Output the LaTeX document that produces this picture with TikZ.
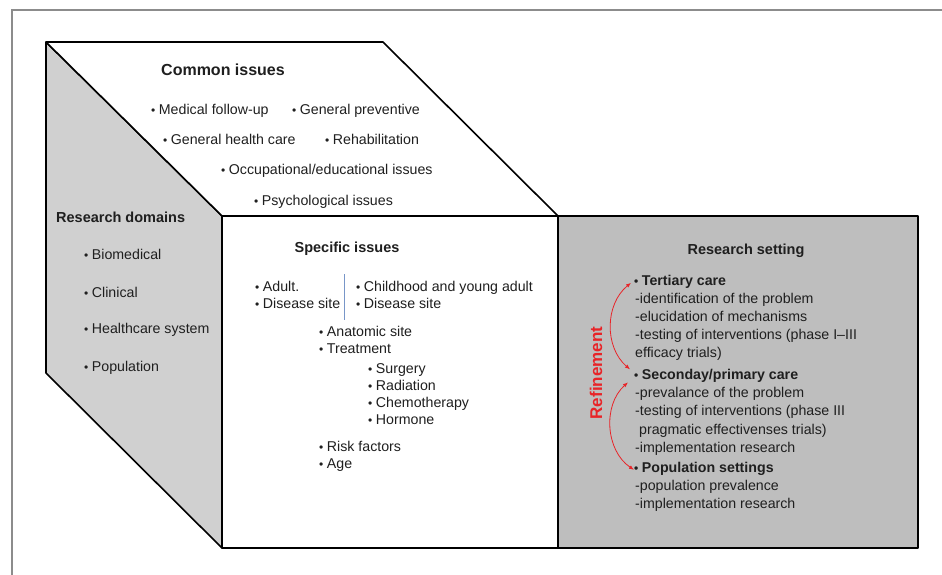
\documentclass[tikz,border=0pt]{standalone}
\usepackage{fontspec}
\setmainfont{Liberation Sans}
\usetikzlibrary{arrows.meta,positioning}
\definecolor{setgray}{RGB}{190,190,190}
\definecolor{domgray}{RGB}{208,208,208}
\definecolor{framegray}{RGB}{140,140,140}
\definecolor{refred}{RGB}{232,36,40}
\definecolor{sepblue}{RGB}{120,150,200}
\newcommand{\bu}{{\fontsize{12}{12}\selectfont\textbullet}\hspace{3.5pt}}

\begin{document}
\begin{tikzpicture}[x=1pt,y=-1pt,font=\fontsize{14.2}{17}\selectfont,
      t/.style={inner sep=0pt,anchor=base west,text=black!88},
      h/.style={t,anchor=base,font=\fontsize{14.5}{17}\selectfont\bfseries},
      b/.style={t,font=\fontsize{14.2}{17}\selectfont\bfseries},
      face/.style={draw=black,line width=1.6pt,line join=round},
      a/.style={{Latex[length=5pt,width=4pt]}-{Latex[length=5pt,width=4pt]},draw=refred,line width=0.8pt}]
      \useasboundingbox (0,0) rectangle (942,575);
      \draw[framegray,line width=2pt] (12,575) -- (12,10.5) -- (942,10.5);
      % cube faces and setting box
      \draw[face,fill=domgray] (46,42) -- (222,216) -- (222,548) -- (46,373) -- cycle;
      \draw[face,fill=white] (46,42) -- (383,42) -- (558,216) -- (222,216) -- cycle;
      \draw[face,fill=white] (222,216) rectangle (558,548);
      \draw[face,fill=setgray] (558,216) rectangle (918,548);
      % common issues
      \node[h,font=\fontsize{16}{17}\selectfont\bfseries] (common) at (223,76) {Common issues};
      \node[t] (follow) at (151,115) {\bu Medical follow-up};
      \node[t] (prev) at (292,115) {\bu General preventive};
      \node[t] (health) at (163,144) {\bu General health care};
      \node[t] (rehab) at (325,144) {\bu Rehabilitation};
      \node[t] (occup) at (221,175) {\bu Occupational/educational issues};
      \node[t] (psych) at (254,205) {\bu Psychological issues};
      % research domains
      \node[h,anchor=base west] (domains) at (56,222) {Research domains};
      \foreach \s/\y in {Biomedical/259,Clinical/297,Healthcare system/333,Population/371}
        \node[t] (dom\y) at (84,\y) {\bu \s};
      % specific issues
      \node[h] (specific) at (347,252) {Specific issues};
      \node[t] (adult) at (255,291) {\bu Adult.};
      \node[t] (adsite) at (255,308) {\bu Disease site};
      \node[t] (child) at (356,291) {\bu Childhood and young adult};
      \node[t] (chsite) at (356,308) {\bu Disease site};
      \draw[sepblue,line width=0.7pt] (344,274) -- (344,320);
      \node[t] (anat) at (319,336) {\bu Anatomic site};
      \node[t] (treat) at (319,353) {\bu Treatment};
      \foreach \s/\y in {Surgery/373,Radiation/390,Chemotherapy/407,Hormone/424}
        \node[t] (tr\y) at (368,\y) {\bu \s};
      \node[t] (risk) at (319,451) {\bu Risk factors};
      \node[t] (age) at (319,468) {\bu Age};
      % research setting
      \node[h] (setting) at (746,254) {Research setting};
      \node[b] (tert) at (634,285) {\bu Tertiary care};
      \foreach \s/\y in {-identification of the problem/303,-elucidation of mechanisms/321,
          -testing of interventions (phase I–III/339,efficacy trials)/357}
        \node[t] (te\y) at (635,\y) {\s};
      \node[b] (sec) at (634,379) {\bu Seconday/primary care};
      \foreach \s/\y in {-prevalance of the problem/397,-testing of interventions (phase III/415,
          \ pragmatic effectivenses trials)/434,-implementation research/452}
        \node[t] (se\y) at (635,\y) {\s};
      \node[b] (pop) at (634,472) {\bu Population settings};
      \foreach \s/\y in {-population prevalence/490,-implementation research/508}
        \node[t] (po\y) at (635,\y) {\s};
      \node[font=\fontsize{17}{17}\selectfont\bfseries,text=refred,rotate=90] (refine) at (596,373) {Refinement};
      \draw[a] ([xshift=-3pt,yshift=-1.5pt]tert.west) to[bend right=50] ([xshift=-4pt,yshift=6pt]sec.west);
      \draw[a] ([xshift=-6pt,yshift=-7pt]sec.west) to[bend right=52] ([yshift=-1.5pt]pop.west);
    \end{tikzpicture}
\end{document}
